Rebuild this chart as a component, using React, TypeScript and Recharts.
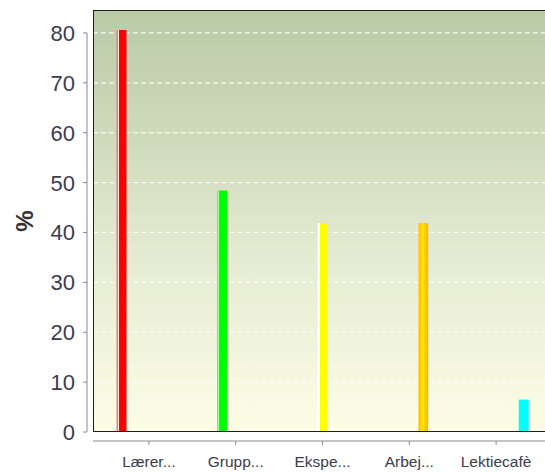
import React from "react";
import { BarChart, Bar, XAxis, YAxis, CartesianGrid } from "recharts";

// one value per activity, in percent
const categories = ["Lærer...", "Grupp...", "Ekspe...", "Arbej...", "Lektiecafè"];
const values = [80.6, 48.4, 41.9, 41.9, 6.5];
const yTicks = [0, 10, 20, 30, 40, 50, 60, 70, 80];

const CHART_W = 560;
const CHART_H = 472;
const PLOT_LEFT = 93;
const PLOT_TOP = 10;
const X_AXIS_H = 40;
const PLOT_H = CHART_H - PLOT_TOP - X_AXIS_H;
const Y_MAX = 84.6;
const FONT = "'Liberation Sans', Arial, Helvetica, sans-serif";

// each series only has its own category (R barplot of a diagonal matrix, beside=TRUE)
const seriesKeys = categories.map((_, i) => `s${i}`);
const tableData = categories.map((cat, i) => {
  const row: Record<string, string | number | null> = { cat };
  seriesKeys.forEach((k, j) => {
    row[k] = i === j ? values[i] : null;
  });
  return row;
});

const gradients = [
  [
    [0, "#ff7272"],
    [0.1, "#ff7272"],
    [0.1, "#fff0f0"],
    [0.26, "#fff0f0"],
    [0.26, "#ff0000"],
    [1, "#ff0000"],
  ],
  [
    [0, "#5cf05c"],
    [0.1, "#5cf05c"],
    [0.1, "#a8ffa8"],
    [0.24, "#a8ffa8"],
    [0.24, "#00ff00"],
    [1, "#00ff00"],
  ],
  [
    [0, "#ffffff"],
    [0.22, "#ffffff"],
    [0.22, "#ffff00"],
    [1, "#ffff00"],
  ],
  [
    [0, "#ffd27a"],
    [0.14, "#ffc400"],
    [0.45, "#ffea00"],
    [0.62, "#ffd200"],
    [0.88, "#ffc000"],
    [1, "#ffb400"],
  ],
  [
    [0, "#00ffff"],
    [1, "#00ffff"],
  ],
] as [number, string][][];

const YTick = (props: any) => {
  const { x, y, payload } = props;
  return (
    <g>
      <line x1={x - 10} x2={x - 6} y1={y} y2={y} stroke="#8a8a8a" />
      {payload.value === 0 && (
        <line
          x1={x - 6}
          x2={x - 6}
          y1={y}
          y2={y - (80 * PLOT_H) / Y_MAX}
          stroke="#8a8a8a"
        />
      )}
      <text
        x={x - 18}
        y={y}
        dy="0.36em"
        textAnchor="end"
        fontSize={22}
        fontFamily={FONT}
        fill="#3c3c52"
      >
        {payload.value}
      </text>
    </g>
  );
};

const XTick = (props: any) => {
  const { x, y, payload, index } = props;
  return (
    <g>
      {index === 0 && (
        <line x1={PLOT_LEFT} x2={CHART_W} y1={y + 9} y2={y + 9} stroke="#8a8a8a" />
      )}
      <line x1={x} x2={x} y1={y + 9} y2={y + 13} stroke="#8a8a8a" />
      <text
        x={x}
        y={y + 35}
        textAnchor="middle"
        fontSize={15.5}
        fontFamily={FONT}
        fill="#3c3c4c"
      >
        {payload.value}
      </text>
    </g>
  );
};

const PercentLabel = (props: any) => {
  const vb = props.viewBox || {};
  const cy = (vb.y ?? PLOT_TOP) + (vb.height ?? PLOT_H) / 2;
  return (
    <text
      x={24}
      y={cy}
      transform={`rotate(-90, 24, ${cy})`}
      textAnchor="middle"
      dy="0.36em"
      fontSize={24}
      fontWeight="bold"
      fontFamily={FONT}
      fill="#333333"
    >
      %
    </text>
  );
};

const plotBox = {
  position: "absolute" as const,
  left: PLOT_LEFT,
  top: PLOT_TOP,
  width: CHART_W - PLOT_LEFT,
  height: PLOT_H,
  boxSizing: "border-box" as const,
};

export default function App() {
  return (
    <div
      style={{
        position: "absolute",
        left: 0,
        top: 0,
        width: 545,
        height: 472,
        overflow: "hidden",
        background: "#ffffff",
      }}
    >
      {/* panel background */}
      <div
        style={{
          ...plotBox,
          background:
            "linear-gradient(to bottom, #b9caa7 0%, #d3ddbf 35%, #e6ecd3 60%, #fdfde6 100%)",
        }}
      />
      <BarChart
        width={CHART_W}
        height={CHART_H}
        data={tableData}
        margin={{ top: PLOT_TOP, right: 0, bottom: 0, left: 0 }}
        barSize={10}
        barGap={3.75}
      >
        <defs>
          {gradients.map((stops, i) => (
            <linearGradient key={i} id={`barGrad${i}`} x1="0" y1="0" x2="1" y2="0">
              {stops.map(([o, c], j) => (
                <stop key={j} offset={o} stopColor={c} />
              ))}
            </linearGradient>
          ))}
        </defs>
        <CartesianGrid
          vertical={false}
          stroke="#ffffff"
          strokeOpacity={0.85}
          strokeWidth={1.2}
          strokeDasharray="5 3"
        />
        <XAxis
          dataKey="cat"
          height={X_AXIS_H}
          padding={{ left: 12.5, right: 20.5 }}
          axisLine={false}
          tickLine={false}
          tickSize={0}
          tickMargin={0}
          interval={0}
          tick={<XTick />}
        />
        <YAxis
          type="number"
          width={PLOT_LEFT}
          domain={[0, Y_MAX]}
          ticks={yTicks}
          axisLine={false}
          tickLine={false}
          tickSize={0}
          tickMargin={0}
          tick={<YTick />}
          label={{ content: <PercentLabel /> }}
        />
        {seriesKeys.map((k, i) => (
          <Bar
            key={k}
            dataKey={k}
            fill={`url(#barGrad${i})`}
            isAnimationActive={false}
          />
        ))}
      </BarChart>
      {/* panel frame drawn over the grid */}
      <div
        style={{
          ...plotBox,
          pointerEvents: "none",
          borderTop: "1.5px solid #1e1e1e",
          borderLeft: "1.5px solid #1e1e1e",
          borderBottom: "1.5px solid #1e1e1e",
        }}
      />
    </div>
  );
}
